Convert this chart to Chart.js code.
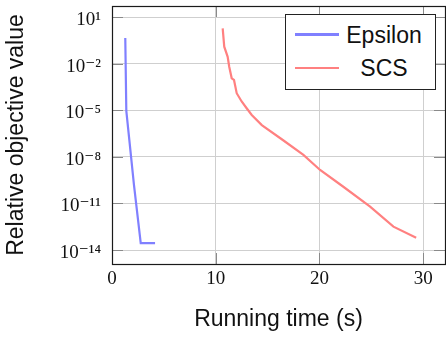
<!DOCTYPE html>
<html><head><meta charset="utf-8">
<script src="https://cdn.jsdelivr.net/npm/chart.js@4.4.1/dist/chart.umd.min.js"></script>
<style>
html,body{margin:0;padding:0;background:#fff;}
#wrap{position:relative;width:446px;height:338px;overflow:hidden;}
#legend{position:absolute;left:285px;top:14px;width:151px;height:76px;box-sizing:border-box;border:1px solid #222;background:#fff;font-family:"Liberation Sans",Arial,sans-serif;font-size:23px;color:#111;}
.sw{position:absolute;left:9px;width:44px;height:2.2px;}
.lt{position:absolute;left:58px;width:80px;text-align:center;line-height:26px;height:26px;white-space:nowrap;}
</style></head><body>
<div id="wrap"><canvas id="c" width="446" height="338"></canvas><div id="legend"></div></div>
<script>
// ---- data ----
const seriesNames = ['Epsilon', 'SCS'];
const epsTime  = [1.28, 1.38, 1.67, 2.12, 2.77, 4.15];
const epsValue = [4.8e-1, 9.3e-6, 1.26e-7, 1.55e-10, 2.8e-14, 2.8e-14];
const scsTime  = [10.67, 10.82, 11.15, 11.30, 11.54, 11.76, 12.02, 12.50, 12.98, 13.47, 14.44, 16.50, 18.45, 20.06, 22.30, 24.88, 27.13, 29.32];
const scsValue = [2.0, 1.3e-1, 2.9e-2, 6.6e-3, 1.2e-3, 9.3e-4, 1.3e-4, 3.8e-5, 1.4e-5, 5.1e-6, 1.15e-6, 1.2e-7, 1.35e-8, 1.45e-9, 1.2e-10, 6.2e-12, 3.2e-13, 6.2e-14];
const xTickValues = [0, 10, 20, 30];
const yTickValues = [1e-14, 1e-11, 1e-8, 1e-5, 1e-2, 1e1];
const yTickLabels = ['10\u207B\u00B9\u2074', '10\u207B\u00B9\u00B9', '10\u207B\u2078', '10\u207B\u2075', '10\u207B\u00B2', '10\u00B9'];
const xTitle = 'Running time (s)';
const yTitle = 'Relative objective value';

const pts = (xs, ys) => xs.map((x, i) => ({x: x, y: ys[i]}));

const frameAndTicks = {
  id: 'frameAndTicks',
  beforeDatasetsDraw(chart) {
    const {ctx, chartArea: a, scales: {x, y}} = chart;
    ctx.save();
    ctx.strokeStyle = '#8a8a8a';
    ctx.lineWidth = 1;
    const L = 11;
    ctx.beginPath();
    xTickValues.forEach(v => {
      const px = Math.round(x.getPixelForValue(v)) + 0.5;
      ctx.moveTo(px, a.top); ctx.lineTo(px, a.top + L);
      ctx.moveTo(px, a.bottom); ctx.lineTo(px, a.bottom - L);
    });
    yTickValues.forEach(v => {
      const py = Math.round(y.getPixelForValue(v)) + 0.5;
      ctx.moveTo(a.left, py); ctx.lineTo(a.left + L, py);
      ctx.moveTo(a.right, py); ctx.lineTo(a.right - L, py);
    });
    ctx.stroke();
    ctx.restore();
  },
  afterDatasetsDraw(chart) {
    const {ctx, chartArea: a} = chart;
    ctx.save();
    ctx.strokeStyle = '#1a1a1a';
    ctx.lineWidth = 1.2;
    ctx.strokeRect(Math.round(a.left) + 0.5, Math.round(a.top) + 0.5, Math.round(a.right - a.left), Math.round(a.bottom - a.top));
    ctx.restore();
  }
};

const noPad = s => { s.paddingTop = 0; s.paddingBottom = 0; s.paddingLeft = 0; s.paddingRight = 0; };

const chart = new Chart(document.getElementById('c'), {
  type: 'line',
  data: {
    datasets: [
      {label: seriesNames[0], data: pts(epsTime, epsValue), borderColor: '#8080ff', borderWidth: 2.2, pointRadius: 0, tension: 0, fill: false},
      {label: seriesNames[1], data: pts(scsTime, scsValue), borderColor: '#ff8080', borderWidth: 2.2, pointRadius: 0, tension: 0, fill: false}
    ]
  },
  options: {
    responsive: false,
    animation: false,
    devicePixelRatio: 1,
    layout: {padding: {top: 6, right: 1, left: 0, bottom: 0}},
    plugins: {legend: {display: false}, tooltip: {enabled: false}},
    scales: {
      x: {
        type: 'linear', min: 0, max: 32.1,
        afterBuildTicks: s => { s.ticks = xTickValues.map(v => ({value: v})); },
        afterFit: s => { s.height = 74; noPad(s); },
        grid: {color: '#cfcfcf', lineWidth: 1, drawTicks: false},
        border: {display: false},
        ticks: {autoSkip: false, maxRotation: 0, padding: 4, color: '#111', font: {family: '"Liberation Serif", "DejaVu Serif", serif', size: 19}},
        title: {display: true, text: xTitle, color: '#111', padding: {top: 0, bottom: 5}, font: {family: '"Liberation Sans", Arial, sans-serif', size: 23}}
      },
      y: {
        type: 'logarithmic', min: 1.25e-15, max: 55,
        afterBuildTicks: s => { s.ticks = yTickValues.map(v => ({value: v})); },
        afterFit: s => { s.width = 112; noPad(s); },
        grid: {color: '#cfcfcf', lineWidth: 1, drawTicks: false},
        border: {display: false},
        ticks: {autoSkip: false, padding: 11, labelOffset: 3, color: '#111',
          font: {family: '"Liberation Serif", "DejaVu Serif", serif', size: 19},
          callback: (v, i) => yTickLabels[i]},
        title: {display: true, text: yTitle, color: '#111', padding: {top: 3, bottom: 0}, font: {family: '"Liberation Sans", Arial, sans-serif', size: 23}}
      }
    }
  },
  plugins: [frameAndTicks]
});

// HTML legend generated from the chart's datasets
const leg = document.getElementById('legend');
const rowCenters = [34.5, 68];
chart.data.datasets.forEach((ds, i) => {
  const c = rowCenters[i] - 15;
  const sw = document.createElement('div');
  sw.className = 'sw';
  sw.style.top = (c - 1.1) + 'px';
  sw.style.background = ds.borderColor;
  leg.appendChild(sw);
  const t = document.createElement('div');
  t.className = 'lt';
  t.style.top = (c - 12.8) + 'px';
  t.textContent = ds.label;
  leg.appendChild(t);
});
</script>
</body></html>
